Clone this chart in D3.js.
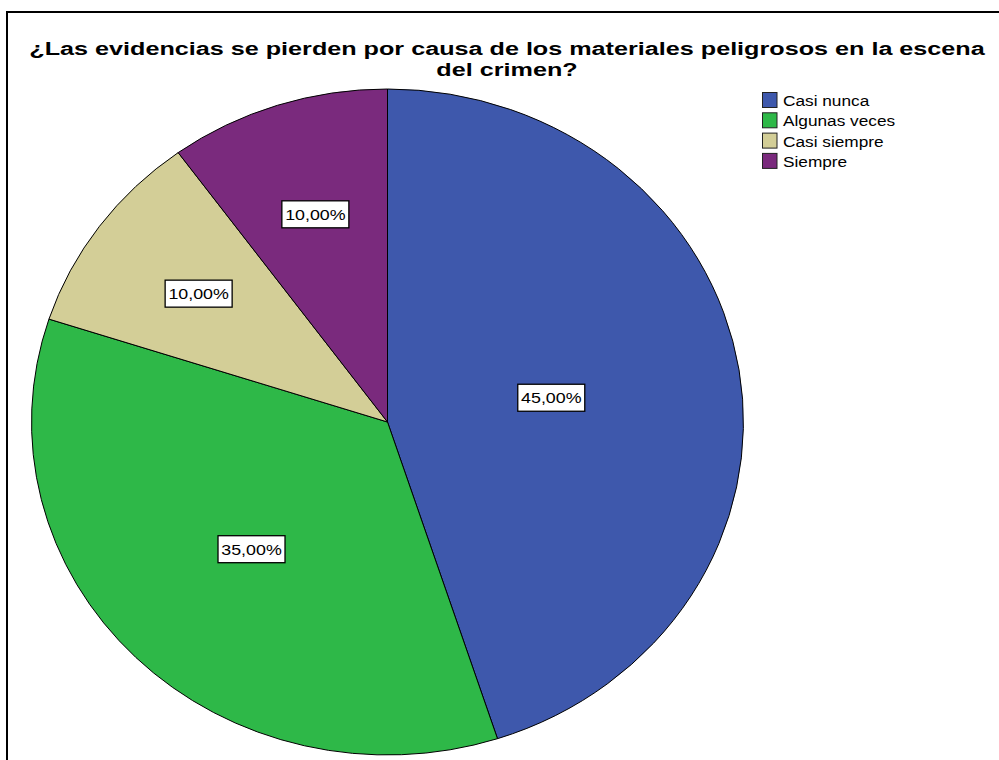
<!DOCTYPE html>
<html>
<head>
<meta charset="utf-8">
<script src="https://cdn.jsdelivr.net/npm/d3@7"></script>
<style>
  body { margin: 0; background: #fff; }
  text { font-family: "Liberation Sans", Arial, sans-serif; }
</style>
</head>
<body>
<div id="chart-area"></div>
<script>
const categories = ["Casi nunca", "Algunas veces", "Casi siempre", "Siempre"];
const percents = [45, 35, 10, 10];
const colors = ["#3E58AC", "#2EB848", "#D3CE97", "#7A2A7D"];
const titleLines = [
  "¿Las evidencias se pierden por causa de los materiales peligrosos en la escena",
  "del crimen?"
];

const width = 999;
const height = 760;
// the original picture is stretched a bit sideways, text too
const stretch = 1.15;

const svg = d3
  .select("#chart-area")
  .append("svg")
  .attr("width", width)
  .attr("height", height);

// outer frame
svg
  .append("rect")
  .attr("x", 7)
  .attr("y", 12)
  .attr("width", width + 20)
  .attr("height", height + 20)
  .attr("fill", "none")
  .attr("stroke", "#000")
  .attr("stroke-width", 2);

svg
  .append("g")
  .selectAll("text")
  .data(titleLines)
  .join("text")
  .attr("transform", (d, i) => `translate(507, ${54.5 + i * 21.5}) scale(1.325, 1)`)
  .attr("text-anchor", "middle")
  .style("font-size", "19px")
  .style("font-weight", "bold")
  .text((d) => d);

// the pie is drawn on a unit circle and stretched to the ellipse of the picture
const cx = 387.5;
const cy = 422;
const rx = 356;
const ry = 333;

const pie = d3.pie().sort(null).value((d) => d.value);
const arcs = pie(categories.map((c, i) => ({ name: c, value: percents[i], color: colors[i] })));
const arc = d3.arc().innerRadius(0).outerRadius(1);

const pieG = svg
  .append("g")
  .attr("transform", `translate(${cx},${cy}) scale(${rx},${ry})`);

pieG
  .selectAll("path")
  .data(arcs)
  .join("path")
  .attr("d", arc)
  .attr("fill", (d) => d.data.color)
  .attr("stroke", "#000")
  .attr("stroke-width", 1)
  .attr("vector-effect", "non-scaling-stroke");

const locale = d3.formatLocale({ decimal: ",", thousands: ".", grouping: [3], currency: ["", "€"] });
const fmt = locale.format(".2f");

// label at centroid of the circular sector
function labelPos(d) {
  const theta = d.endAngle - d.startAngle;
  const mid = (d.startAngle + d.endAngle) / 2;
  const r = (4 * Math.sin(theta / 2)) / (3 * theta);
  return [cx + rx * r * Math.sin(mid), cy - ry * r * Math.cos(mid)];
}

const labels = svg
  .append("g")
  .selectAll("g")
  .data(arcs)
  .join("g")
  .attr("transform", (d) => {
    const [x, y] = labelPos(d);
    return `translate(${x},${y})`;
  });

labels
  .append("rect")
  .attr("x", -33.5)
  .attr("y", -13.5)
  .attr("width", 67)
  .attr("height", 27)
  .attr("fill", "#fff")
  .attr("stroke", "#000")
  .attr("stroke-width", 1.3);

labels
  .append("text")
  .attr("transform", `translate(0, 5.5) scale(${stretch}, 1)`)
  .attr("text-anchor", "middle")
  .style("font-size", "15.5px")
  .attr("fill", "#000")
  .text((d) => fmt(d.data.value) + "%");

// legend
const legend = svg.append("g").attr("transform", "translate(762, 92)");

legend
  .selectAll("rect")
  .data(categories)
  .join("rect")
  .attr("x", 0.5)
  .attr("y", (d, i) => i * 20.3 + 0.5)
  .attr("width", 14.5)
  .attr("height", 15)
  .attr("fill", (d, i) => colors[i])
  .attr("stroke", "#222")
  .attr("stroke-width", 1);

legend
  .selectAll("text")
  .data(categories)
  .join("text")
  .attr("transform", (d, i) => `translate(21, ${i * 20.3 + 14}) scale(${stretch}, 1)`)
  .style("font-size", "15px")
  .attr("fill", "#000")
  .text((d) => d);
</script>
</body>
</html>
